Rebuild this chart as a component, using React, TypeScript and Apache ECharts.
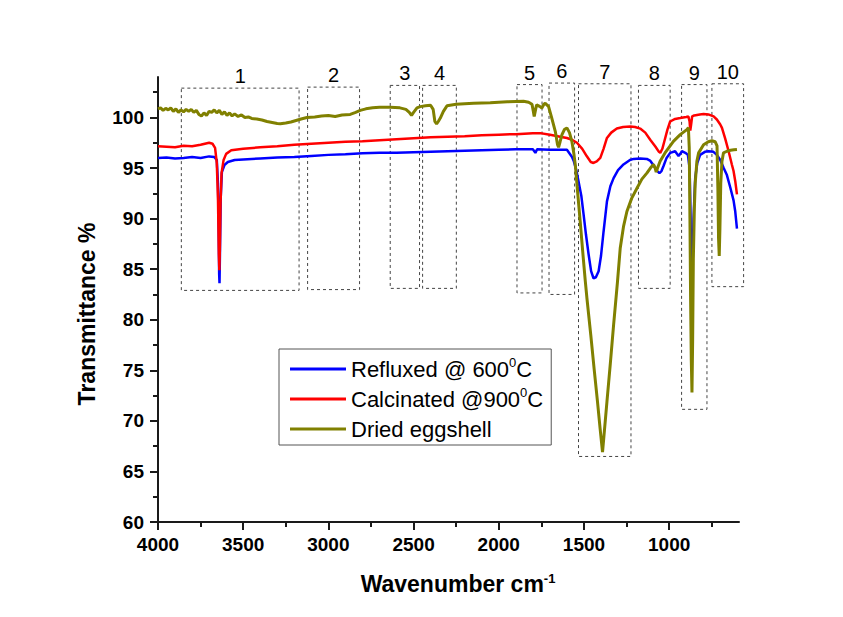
import React, { useEffect, useRef } from "react";
import * as echarts from "echarts";

const FONT = "'Liberation Sans', Arial, sans-serif";

// Wavenumber (cm-1), Transmittance (%)
const refluxed: [number, number][] = [
  [4000, 96.0], [3950, 96.05], [3900, 95.95], [3850, 96.0], [3800, 96.1], [3750, 96.0], [3700, 96.15],
  [3670, 96.1], [3655, 95.8], [3648, 93.5], [3644, 89], [3641, 84.5], [3639, 83.6], [3636, 87],
  [3632, 92], [3625, 94.6], [3610, 95.3], [3590, 95.6], [3550, 95.8], [3500, 95.85], [3400, 95.95],
  [3300, 96.05], [3200, 96.1], [3100, 96.2], [3000, 96.3], [2900, 96.35], [2800, 96.45], [2700, 96.5],
  [2600, 96.5], [2500, 96.55], [2400, 96.6], [2300, 96.65], [2200, 96.7], [2100, 96.75], [2000, 96.8],
  [1900, 96.85], [1800, 96.85], [1785, 96.5], [1775, 96.85], [1700, 96.8], [1650, 96.8], [1600, 96.8],
  [1570, 96.1], [1560, 95.7], [1545, 94.8], [1532, 93.7], [1515, 92.2], [1502, 90.4], [1488, 88.4],
  [1473, 86.5], [1458, 84.8], [1444, 84.1], [1430, 84.2], [1414, 84.8], [1400, 86.3], [1385, 88.7],
  [1365, 91.7], [1345, 93.2], [1326, 94.0], [1300, 94.8], [1268, 95.35], [1230, 95.8], [1209, 95.9],
  [1170, 95.95], [1131, 95.9], [1110, 95.7], [1092, 95.27], [1070, 94.7], [1057, 94.5], [1045, 94.7],
  [1033, 95.2], [1015, 96.0], [994, 96.5], [965, 96.66], [945, 96.2], [935, 96.4], [925, 96.66],
  [905, 96.5], [890, 96.3], [880, 95.0], [874, 90], [870, 84], [866, 83.5], [862, 86], [857, 90],
  [847, 94.0], [835, 95.5], [818, 96.3], [790, 96.6], [769, 96.66], [740, 96.6], [720, 96.3],
  [700, 95.8], [680, 95.0], [661, 94.3], [640, 93.0], [622, 91.8], [612, 90.7], [602, 89.0],
];

const calcinated: [number, number][] = [
  [4000, 97.15], [3950, 97.1], [3900, 97.05], [3850, 97.2], [3800, 97.15], [3750, 97.3], [3700, 97.5],
  [3680, 97.4], [3665, 97.0], [3655, 95.5], [3648, 92], [3643, 86.5], [3640, 84.9], [3637, 87],
  [3633, 91.5], [3627, 94.5], [3615, 95.8], [3600, 96.4], [3570, 96.75], [3500, 96.9], [3400, 97.05],
  [3300, 97.15], [3200, 97.3], [3100, 97.4], [3000, 97.5], [2900, 97.6], [2800, 97.65], [2700, 97.75],
  [2600, 97.85], [2500, 97.95], [2400, 98.05], [2300, 98.1], [2200, 98.15], [2100, 98.25], [2000, 98.3],
  [1900, 98.35], [1800, 98.45], [1756, 98.45], [1700, 98.3], [1668, 98.2], [1640, 98.1], [1600, 97.97],
  [1570, 97.8], [1541, 97.5], [1510, 96.9], [1483, 96.16], [1460, 95.6], [1444, 95.5], [1425, 95.65],
  [1404, 96.0], [1385, 96.9], [1365, 97.97], [1340, 98.5], [1307, 98.9], [1270, 99.05], [1228, 99.1],
  [1200, 99.05], [1170, 98.9], [1140, 98.5], [1111, 97.8], [1080, 97.1], [1060, 96.6], [1052, 96.5],
  [1040, 96.9], [1028, 97.65], [1010, 98.8], [994, 99.6], [965, 99.85], [935, 99.94], [900, 100.05],
  [887, 100.1], [880, 99.6], [876, 98.7], [871, 99.3], [865, 100.1], [853, 100.2], [820, 100.3],
  [798, 100.33], [770, 100.3], [739, 100.1], [720, 99.8], [700, 99.3], [690, 98.97], [671, 97.9],
  [651, 96.66], [632, 95.35], [622, 94.7], [612, 93.7], [602, 92.4],
];

const dried: [number, number][] = [
  [4000, 100.85], [3985, 100.95], [3970, 100.7], [3955, 100.9], [3940, 100.75], [3925, 100.95],
  [3910, 100.6], [3895, 100.85], [3880, 100.5], [3865, 100.75], [3850, 100.55], [3835, 100.8],
  [3820, 100.6], [3805, 100.8], [3790, 100.5], [3775, 100.7], [3760, 100.3], [3745, 100.15],
  [3730, 100.45], [3715, 100.2], [3700, 100.6], [3685, 100.5], [3670, 100.75], [3655, 100.45],
  [3640, 100.7], [3625, 100.3], [3610, 100.55], [3595, 100.2], [3580, 100.45], [3565, 100.15],
  [3550, 100.35], [3530, 100.1], [3510, 100.25], [3490, 100.0], [3470, 100.05], [3450, 99.9],
  [3420, 99.85], [3390, 99.75], [3360, 99.6], [3330, 99.5], [3300, 99.4], [3282, 99.38], [3250, 99.45],
  [3220, 99.55], [3190, 99.7], [3160, 99.85], [3126, 100.0], [3080, 100.05], [3040, 100.15],
  [3000, 100.2], [2960, 100.1], [2920, 100.25], [2872, 100.3], [2840, 100.5], [2813, 100.7],
  [2780, 100.85], [2740, 100.95], [2700, 101.0], [2637, 101.0], [2580, 100.95], [2545, 100.8],
  [2525, 100.5], [2512, 100.2], [2500, 100.5], [2480, 100.95], [2461, 101.07], [2430, 101.15],
  [2400, 101.2], [2385, 100.8], [2375, 99.6], [2365, 99.35], [2355, 99.6], [2343, 99.94], [2325, 100.6],
  [2304, 101.15], [2250, 101.3], [2200, 101.35], [2148, 101.4], [2050, 101.45], [1950, 101.55],
  [1855, 101.6], [1825, 101.5], [1805, 101.3], [1797, 100.6], [1792, 100.1], [1786, 100.6],
  [1778, 101.25], [1760, 101.1], [1747, 100.93], [1735, 101.3], [1727, 101.4], [1715, 101.2],
  [1708, 101.1], [1690, 100.0], [1668, 98.6], [1655, 97.3], [1649, 97.05], [1640, 97.6], [1629, 98.3],
  [1615, 98.8], [1600, 98.97], [1585, 98.5], [1571, 97.64], [1560, 96.5], [1551, 95.35], [1536, 92.4],
  [1522, 89.7], [1505, 86.3], [1492, 83.8], [1483, 82.2], [1460, 78.5], [1440, 75.1], [1420, 71.8],
  [1405, 69.2], [1391, 66.9], [1380, 69.0], [1365, 71.9], [1345, 75.7], [1326, 79.5], [1303, 83.8],
  [1287, 87.1], [1268, 89.2], [1248, 90.7], [1220, 92.0], [1189, 93.0], [1160, 93.9], [1131, 94.5],
  [1110, 95.0], [1092, 95.35], [1082, 95.0], [1076, 94.6], [1068, 95.0], [1053, 95.67], [1020, 96.6],
  [975, 97.64], [935, 98.3], [896, 98.8], [887, 99.0], [882, 97], [878, 90], [874, 82], [870, 76],
  [866, 72.8], [862, 78], [858, 86], [852, 91.0], [847, 93.5], [837, 95.7], [827, 96.5], [798, 97.3],
  [770, 97.6], [749, 97.7], [730, 97.6], [719, 97.2], [714, 93], [710, 88], [706, 86.3], [702, 89],
  [697, 93.5], [690, 95.67], [681, 96.5], [661, 96.66], [640, 96.75], [620, 96.8], [602, 96.83],
];

// Dashed annotation boxes (wavenumber range, transmittance range)
const boxLabels = ["1", "2", "3", "4", "5", "6", "7", "8", "9", "10"];
const boxFrom = [3863, 3122, 2637, 2447, 1893, 1705, 1532, 1180, 927, 749];
const boxTo = [3172, 2817, 2465, 2249, 1746, 1555, 1224, 994, 778, 563];
const boxTop = [102.9, 103.0, 103.17, 103.17, 103.25, 103.4, 103.33, 103.17, 103.25, 103.33];
const boxBottom = [82.9, 82.98, 83.1, 83.1, 82.65, 82.5, 66.48, 83.1, 71.14, 83.27];

const xMajorTicks = [4000, 3500, 3000, 2500, 2000, 1500, 1000];
const xMinorTicks = [3750, 3250, 2750, 2250, 1750, 1250, 750];
const yMajorTicks = [60, 65, 70, 75, 80, 85, 90, 95, 100];
const yMinorTicks = [62.5, 67.5, 72.5, 77.5, 82.5, 87.5, 92.5, 97.5, 102.5];

const seriesNames = ["Refluxed @ 600⁰C", "Calcinated @900⁰C", "Dried eggshell"];
const seriesColors = ["#0000ff", "#ff0000", "#808000"];

const X_MIN = 590;
const X_MAX = 4000;
const Y_MIN = 60;
const Y_MAX = 104;

export default function App() {
  const ref = useRef<HTMLDivElement>(null);

  useEffect(() => {
    if (!ref.current) return;
    const chart = echarts.init(ref.current, undefined, { renderer: "svg" });
    const axisColor = "#1a1a1a";

    const boxData = boxLabels.map((_, i) => [boxFrom[i], boxTo[i], boxTop[i], boxBottom[i]]);

    const xBase = {
      type: "value" as const,
      min: X_MIN,
      max: X_MAX,
      inverse: true,
      position: "bottom" as const,
      gridIndex: 0,
      splitLine: { show: false },
    };
    const yBase = {
      type: "value" as const,
      min: Y_MIN,
      max: Y_MAX,
      position: "left" as const,
      gridIndex: 0,
      splitLine: { show: false },
    };

    chart.setOption({
      animation: false,
      backgroundColor: "#ffffff",
      grid: { left: 158, top: 77, right: 104, bottom: 95, outerBoundsMode: "none" },
      xAxis: [
        {
          ...xBase,
          axisLine: { show: true, onZero: false, lineStyle: { color: axisColor, width: 2 } },
          axisTick: { show: true, length: 8, customValues: xMajorTicks, lineStyle: { color: axisColor, width: 2 } },
          axisLabel: {
            customValues: xMajorTicks,
            formatter: (v: number) => String(v),
            margin: 13,
            fontSize: 19,
            fontWeight: "bold",
            color: "#000",
            fontFamily: FONT,
          },
        },
        {
          ...xBase,
          axisLine: { show: false, onZero: false },
          axisTick: { show: true, length: 5, customValues: xMinorTicks, lineStyle: { color: axisColor, width: 2 } },
          axisLabel: { show: false },
        },
      ],
      yAxis: [
        {
          ...yBase,
          axisLine: { show: true, onZero: false, lineStyle: { color: axisColor, width: 2 } },
          axisTick: { show: true, length: 8, customValues: yMajorTicks, lineStyle: { color: axisColor, width: 2 } },
          axisLabel: {
            customValues: yMajorTicks,
            formatter: (v: number) => String(v),
            margin: 14,
            fontSize: 19,
            fontWeight: "bold",
            color: "#000",
            fontFamily: FONT,
          },
        },
        {
          ...yBase,
          axisLine: { show: false, onZero: false },
          axisTick: { show: true, length: 5, customValues: yMinorTicks, lineStyle: { color: axisColor, width: 2 } },
          axisLabel: { show: false },
        },
      ],
      legend: {
        orient: "vertical",
        left: 279,
        top: 349,
        padding: [7, 8, 3, 11],
        itemGap: 4,
        itemWidth: 56,
        itemHeight: 3,
        icon: "rect",
        borderColor: "#555",
        borderWidth: 1,
        backgroundColor: "#fff",
        data: seriesNames,
        formatter: (name: string) => name.replace("⁰", "{sup|0}"),
        textStyle: {
          fontSize: 22,
          lineHeight: 26,
          color: "#000",
          fontFamily: FONT,
          rich: {
            sup: { fontSize: 13, lineHeight: 26, verticalAlign: "top", color: "#000", fontFamily: FONT },
          },
        },
      },
      graphic: [
        {
          type: "text",
          x: 87,
          y: 314,
          rotation: Math.PI / 2,
          style: {
            text: "Transmittance %",
            fontSize: 23,
            fontWeight: "bold",
            fill: "#000",
            fontFamily: FONT,
            align: "center",
            verticalAlign: "middle",
          },
        },
        {
          type: "text",
          x: 458,
          y: 584,
          style: {
            text: "Wavenumber cm{sup|-1}",
            fontSize: 23,
            fontWeight: "bold",
            fill: "#000",
            fontFamily: FONT,
            align: "center",
            verticalAlign: "middle",
            rich: {
              sup: { fontSize: 13, fontWeight: "bold", fontFamily: FONT, fill: "#000", verticalAlign: "top", lineHeight: 24 },
            },
          },
        },
      ],
      series: [
        {
          type: "custom",
          name: "boxes",
          xAxisIndex: 0,
          yAxisIndex: 0,
          z: 1,
          silent: true,
          clip: false,
          encode: { x: [0, 1], y: [2, 3] },
          data: boxData,
          renderItem: (params: any, api: any) => {
            const p1 = api.coord([api.value(0), api.value(2)]);
            const p2 = api.coord([api.value(1), api.value(3)]);
            const x = Math.min(p1[0], p2[0]);
            const w = Math.abs(p2[0] - p1[0]);
            const y = Math.min(p1[1], p2[1]);
            const h = Math.abs(p2[1] - p1[1]);
            return {
              type: "group",
              children: [
                {
                  type: "rect",
                  shape: { x, y, width: w, height: h },
                  style: { fill: "none", stroke: "#444", lineWidth: 1, lineDash: [3, 3] },
                },
                {
                  type: "text",
                  x: x + w / 2,
                  y: y - 12,
                  style: {
                    text: boxLabels[params.dataIndex],
                    fontSize: 20,
                    fill: "#000",
                    fontFamily: FONT,
                    align: "center",
                    verticalAlign: "middle",
                  },
                },
              ],
            };
          },
        },
        ...[refluxed, calcinated, dried].map((d, i) => ({
          type: "line" as const,
          name: seriesNames[i],
          xAxisIndex: 0,
          yAxisIndex: 0,
          data: d,
          showSymbol: false,
          symbol: "none",
          z: 2 + i,
          color: seriesColors[i],
          lineStyle: { color: seriesColors[i], width: i === 2 ? 3 : 2.5 },
        })),
      ],
    });

    return () => chart.dispose();
  }, []);

  return (
    <div
      ref={ref}
      style={{ position: "absolute", left: 0, top: 0, width: 843, height: 617 }}
    />
  );
}
